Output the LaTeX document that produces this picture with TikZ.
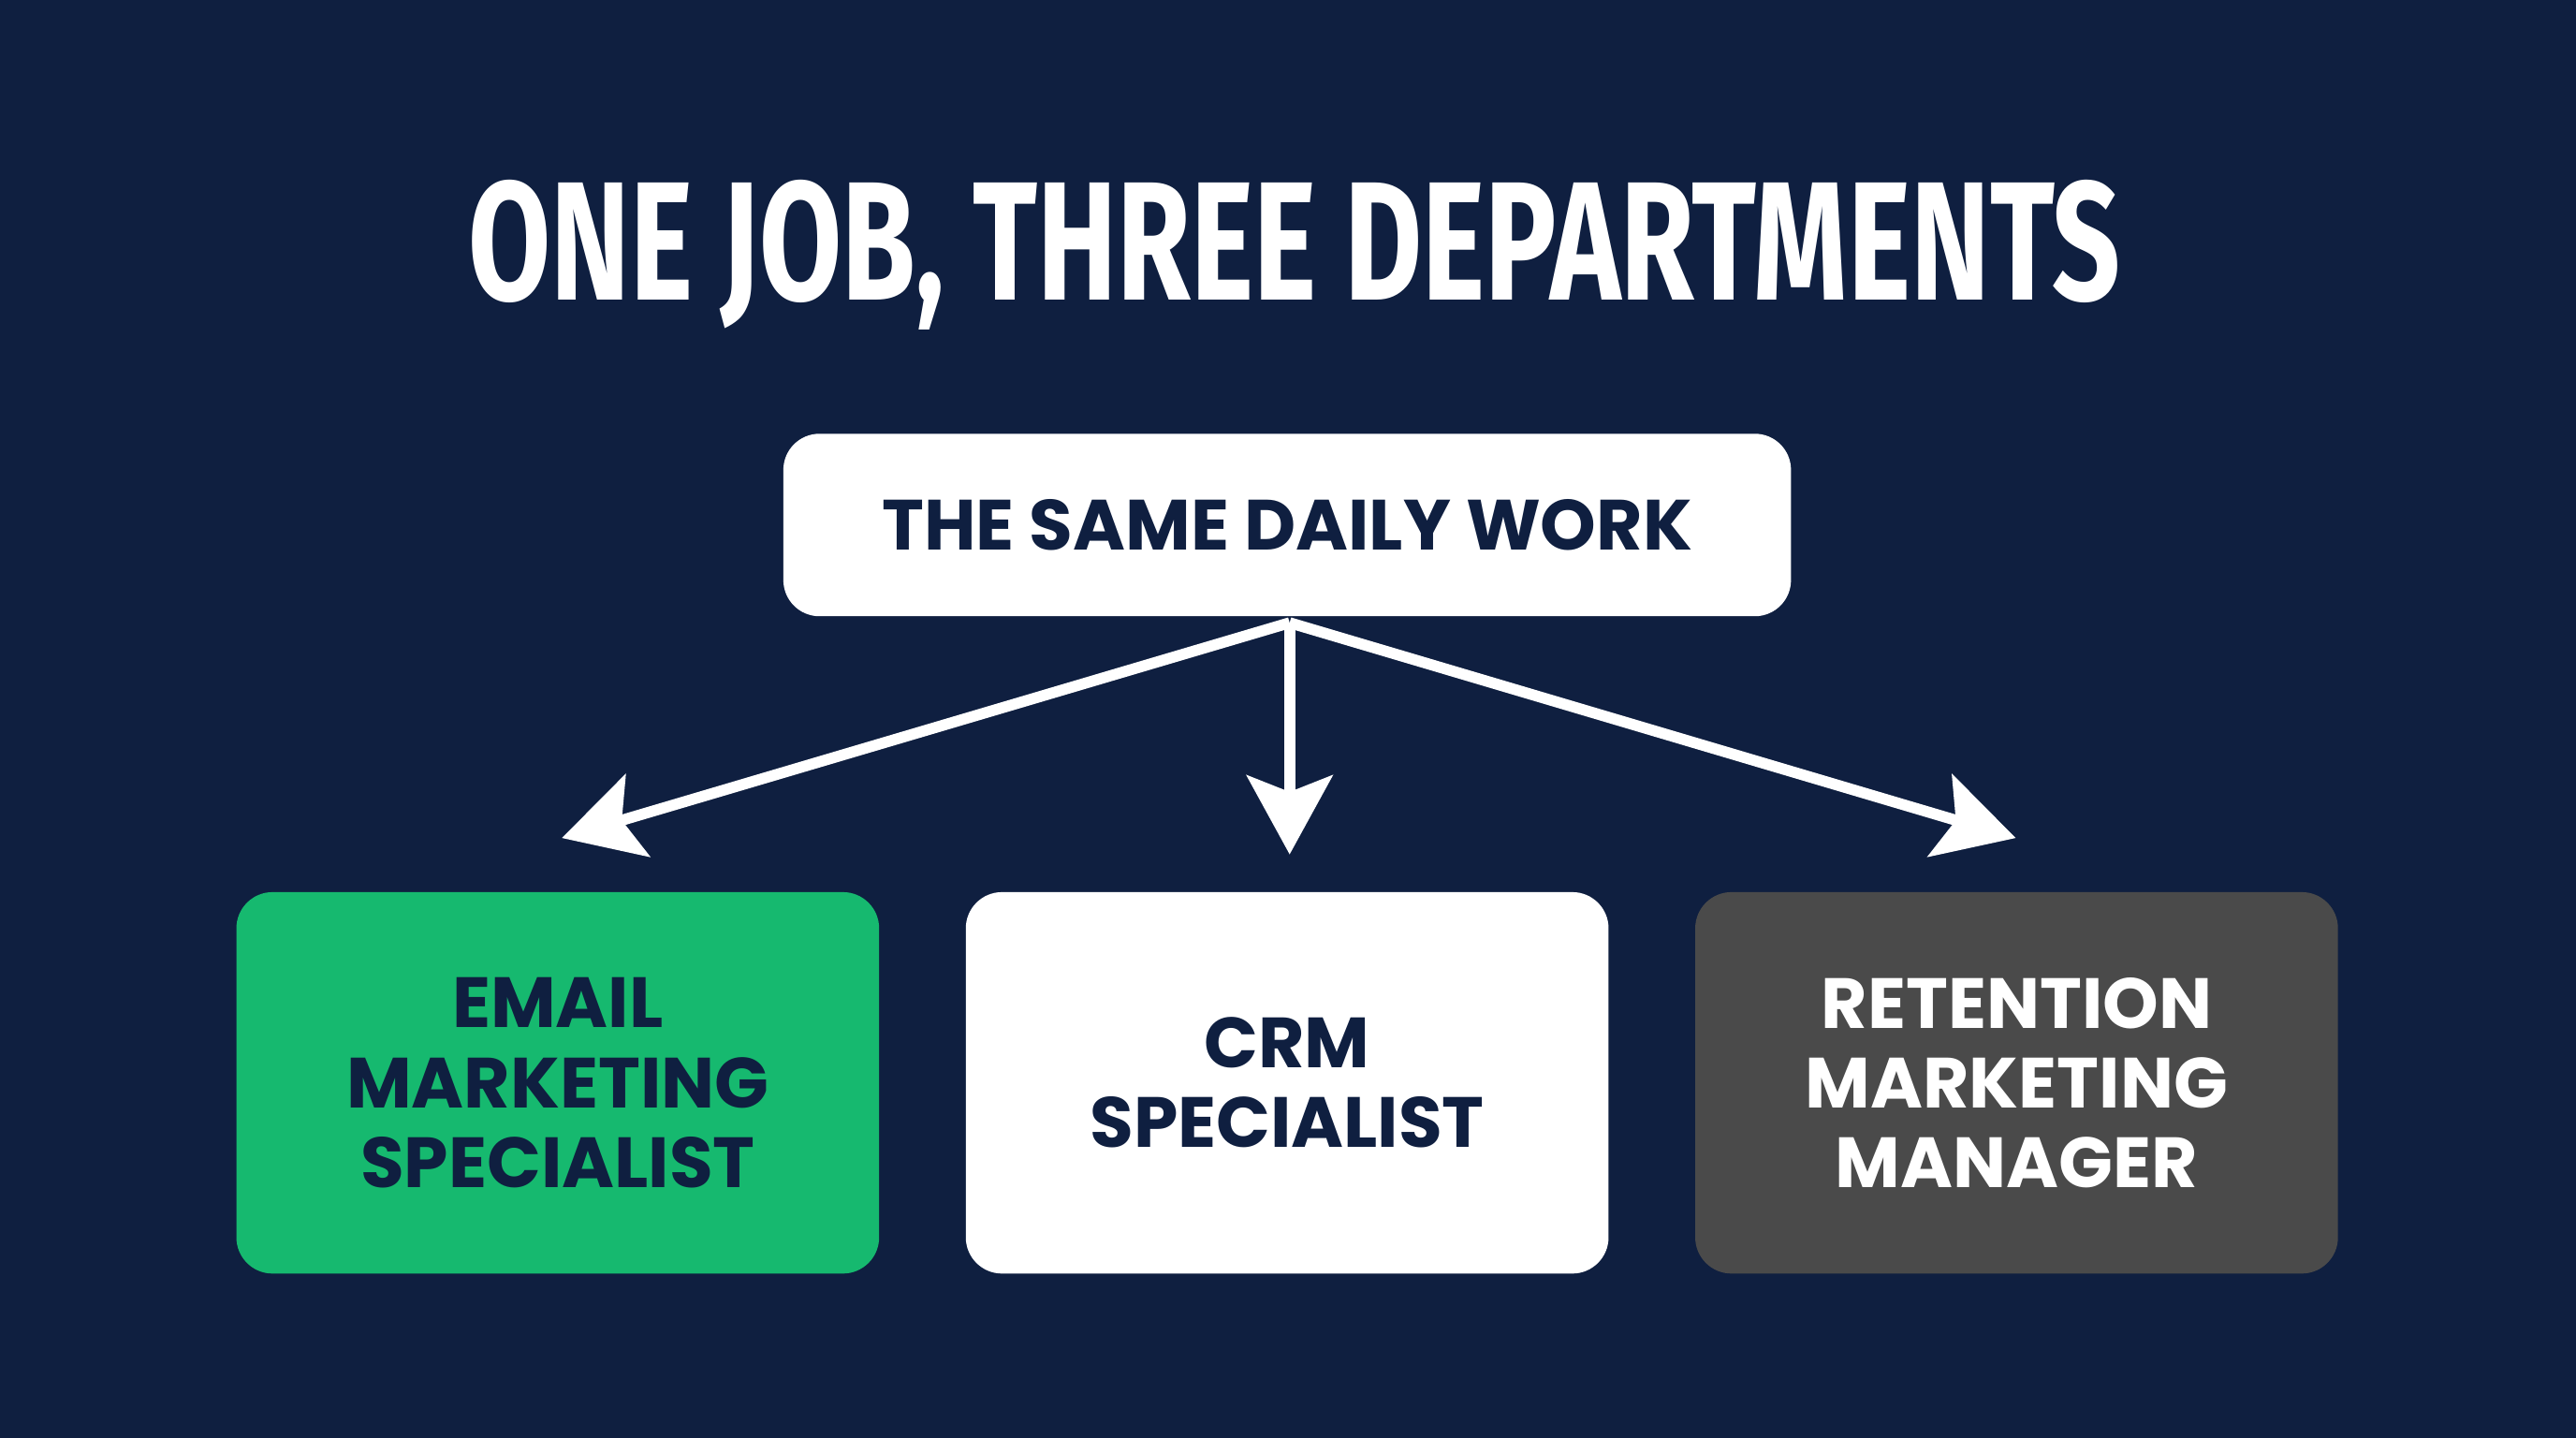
\documentclass[tikz,border=0pt]{standalone}
\usepackage{fontspec}
\setmainfont{Poppins}
\newfontfamily\titlefont{Fira Sans}
\usetikzlibrary{positioning,arrows.meta}
\definecolor{navy}{HTML}{0F1F40}
\definecolor{mint}{HTML}{16B96F}
\definecolor{slate}{HTML}{4A4A4A}
\begin{document}
\begin{tikzpicture}[x=0.01cm,y=-0.01cm]
	\tikzstyle{card}=[rounded corners=0.22cm,inner sep=0pt,align=center,font=\fontsize{12.3}{13.8}\selectfont\bfseries]
	\tikzstyle{link}=[draw=white,line width=1.9pt,-{Stealth[length=0.48cm,width=0.52cm,inset=0.1cm]}]
		\fill[navy] (0,0) rectangle (1568,875);
		\useasboundingbox (0,0) rectangle (1568,875);
		\node[white] (title) at (788,155) {\resizebox{10.05cm}{0.73cm}{\titlefont\bfseries ONE JOB, THREE DEPARTMENTS}};
		\node[card, fill=white, text=navy, minimum width=6.13cm, minimum height=1.11cm] (work) at (783.5,319.5) {THE SAME DAILY WORK};
		\node[card, fill=mint, text=navy, minimum width=3.91cm, minimum height=2.32cm] (email) at (339.5,659) {EMAIL\\MARKETING\\SPECIALIST};
		\node[card, fill=white, text=navy, minimum width=3.91cm, minimum height=2.32cm] (crm) at (783.5,659) {CRM\\SPECIALIST};
		\node[card, fill=slate, text=white, minimum width=3.91cm, minimum height=2.32cm] (retention) at (1227.5,659) {RETENTION\\MARKETING\\MANAGER};
		\coordinate (fork) at (785,379);
		\coordinate (tipl) at (342,510);
		\coordinate (tipm) at (785,520);
		\coordinate (tipr) at (1227,510);
			\draw[link] (fork) -- (tipl);
			\draw[link] (fork) -- (tipm);
			\draw[link] (fork) -- (tipr);
\end{tikzpicture}
\end{document}
